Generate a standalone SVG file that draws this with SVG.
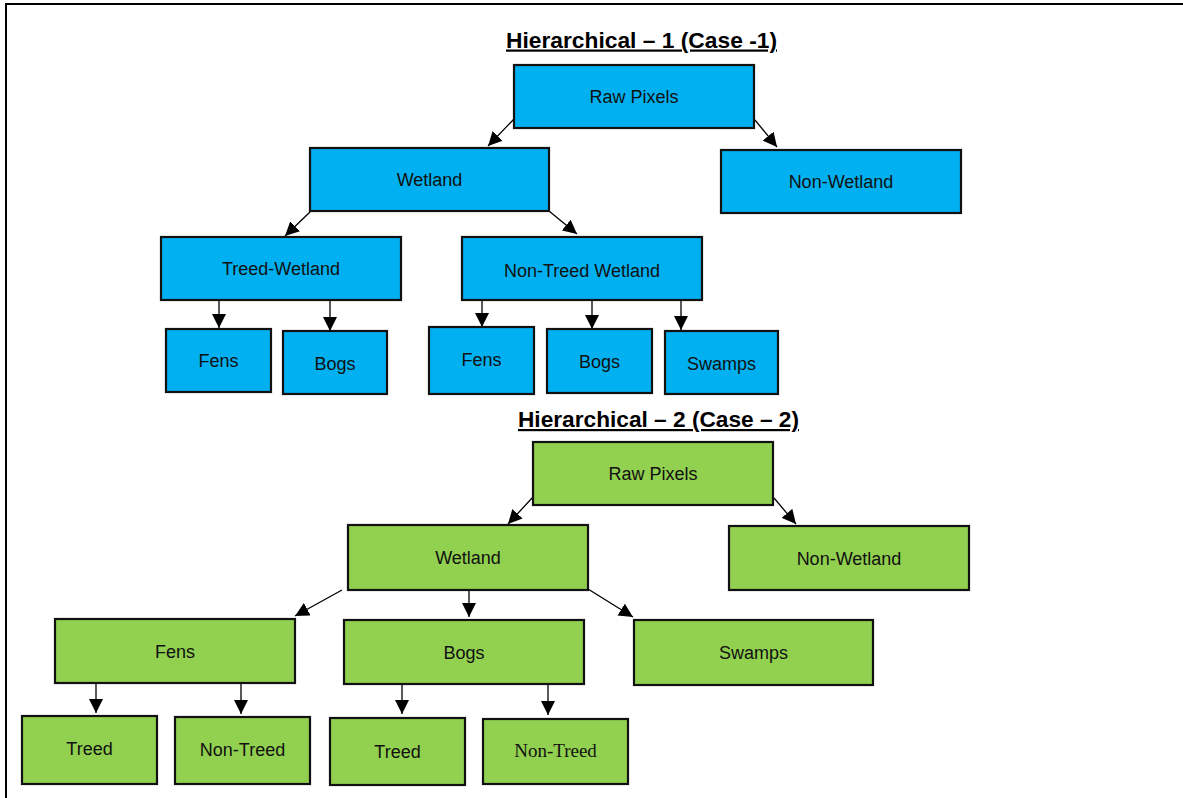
<svg xmlns="http://www.w3.org/2000/svg" width="1183" height="798" viewBox="0 0 1183 798">
<defs>
<marker id="arr" markerUnits="userSpaceOnUse" markerWidth="14" markerHeight="14" viewBox="0 0 14 14" refX="14" refY="7" orient="auto">
<path d="M0,0 L14,7 L0,14 z" fill="#000"/>
</marker>
<style>
.b{fill:#00B0F0;stroke:#111;stroke-width:2.2}
.g{fill:#92D050;stroke:#111;stroke-width:2.2}
.t{font-family:"Liberation Sans",Arial,sans-serif;font-size:18px;fill:#111;text-anchor:middle}
.ts{font-family:"Liberation Serif","Times New Roman",serif;font-size:19px;fill:#111;text-anchor:middle}
.h{font-family:"Liberation Sans",Arial,sans-serif;font-size:22px;font-weight:bold;fill:#000;text-anchor:middle;text-decoration:underline}
.c{stroke:#000;stroke-width:1.3;fill:none;marker-end:url(#arr)}
</style>
</defs>
<rect x="0" y="0" width="1183" height="798" fill="#fff"/>
<rect x="6" y="4" width="1190" height="800" fill="none" stroke="#000" stroke-width="2"/>
<text class="h" x="641.5" y="47.5" textLength="271" lengthAdjust="spacingAndGlyphs">Hierarchical – 1 (Case -1)</text>
<text class="h" x="658.5" y="427" textLength="281" lengthAdjust="spacingAndGlyphs">Hierarchical – 2 (Case – 2)</text>
<g id="connectors">
<line class="c" x1="514" y1="119" x2="488" y2="146"/>
<line class="c" x1="755" y1="120" x2="777" y2="147"/>
<line class="c" x1="310" y1="212" x2="285" y2="236"/>
<line class="c" x1="549" y1="211" x2="577" y2="234"/>
<line class="c" x1="219" y1="300" x2="219" y2="328"/>
<line class="c" x1="330" y1="300" x2="330" y2="331"/>
<line class="c" x1="482" y1="300" x2="482" y2="327"/>
<line class="c" x1="592" y1="300" x2="592" y2="329"/>
<line class="c" x1="681" y1="300" x2="681" y2="330"/>
<line class="c" x1="533" y1="497" x2="508" y2="524"/>
<line class="c" x1="774" y1="498" x2="796" y2="524"/>
<line class="c" x1="342" y1="590" x2="295" y2="616"/>
<line class="c" x1="469" y1="587" x2="469" y2="617"/>
<line class="c" x1="588" y1="589" x2="633" y2="617"/>
<line class="c" x1="96" y1="683" x2="96" y2="713"/>
<line class="c" x1="241" y1="683" x2="241" y2="714"/>
<line class="c" x1="402" y1="684" x2="402" y2="714"/>
<line class="c" x1="548" y1="684" x2="548" y2="715"/>
</g>
<g id="c1-raw"><rect class="b" x="514" y="65" width="240" height="63"/><text class="t" x="634" y="103">Raw Pixels</text></g>
<g id="c1-wetland"><rect class="b" x="310" y="148" width="239" height="63"/><text class="t" x="429.5" y="186">Wetland</text></g>
<g id="c1-nonwetland"><rect class="b" x="721" y="150" width="240" height="63"/><text class="t" x="841" y="188">Non-Wetland</text></g>
<g id="c1-treed"><rect class="b" x="161" y="237" width="240" height="63"/><text class="t" x="281" y="275">Treed-Wetland</text></g>
<g id="c1-nontreed"><rect class="b" x="462" y="237" width="240" height="63"/><text class="t" x="582" y="277">Non-Treed Wetland</text></g>
<g id="c1-fens-t"><rect class="b" x="166" y="329" width="105" height="63"/><text class="t" x="218.5" y="367">Fens</text></g>
<g id="c1-bogs-t"><rect class="b" x="283" y="331" width="104" height="63"/><text class="t" x="335" y="370">Bogs</text></g>
<g id="c1-fens-nt"><rect class="b" x="429" y="327" width="105" height="67"/><text class="t" x="481.5" y="366">Fens</text></g>
<g id="c1-bogs-nt"><rect class="b" x="547" y="329" width="105" height="64"/><text class="t" x="599.5" y="368">Bogs</text></g>
<g id="c1-swamps"><rect class="b" x="665" y="331" width="113" height="63"/><text class="t" x="721.5" y="370">Swamps</text></g>
<g id="c2-raw"><rect class="g" x="533" y="442" width="240" height="63"/><text class="t" x="653" y="480">Raw Pixels</text></g>
<g id="c2-wetland"><rect class="g" x="348" y="525" width="240" height="65"/><text class="t" x="468" y="564">Wetland</text></g>
<g id="c2-nonwetland"><rect class="g" x="729" y="526" width="240" height="64"/><text class="t" x="849" y="565">Non-Wetland</text></g>
<g id="c2-fens"><rect class="g" x="55" y="619" width="240" height="64"/><text class="t" x="175" y="658">Fens</text></g>
<g id="c2-bogs"><rect class="g" x="344" y="620" width="240" height="64"/><text class="t" x="464" y="659">Bogs</text></g>
<g id="c2-swamps"><rect class="g" x="634" y="620" width="239" height="65"/><text class="t" x="753.5" y="659">Swamps</text></g>
<g id="c2-fens-treed"><rect class="g" x="22" y="716" width="135" height="68"/><text class="t" x="89.5" y="755">Treed</text></g>
<g id="c2-fens-nontreed"><rect class="g" x="175" y="717" width="135" height="67"/><text class="t" x="242.5" y="756">Non-Treed</text></g>
<g id="c2-bogs-treed"><rect class="g" x="330" y="718" width="135" height="67"/><text class="t" x="397.5" y="758">Treed</text></g>
<g id="c2-bogs-nontreed"><rect class="g" x="483" y="719" width="145" height="65"/><text class="ts" x="555.5" y="757">Non-Treed</text></g>
</svg>
